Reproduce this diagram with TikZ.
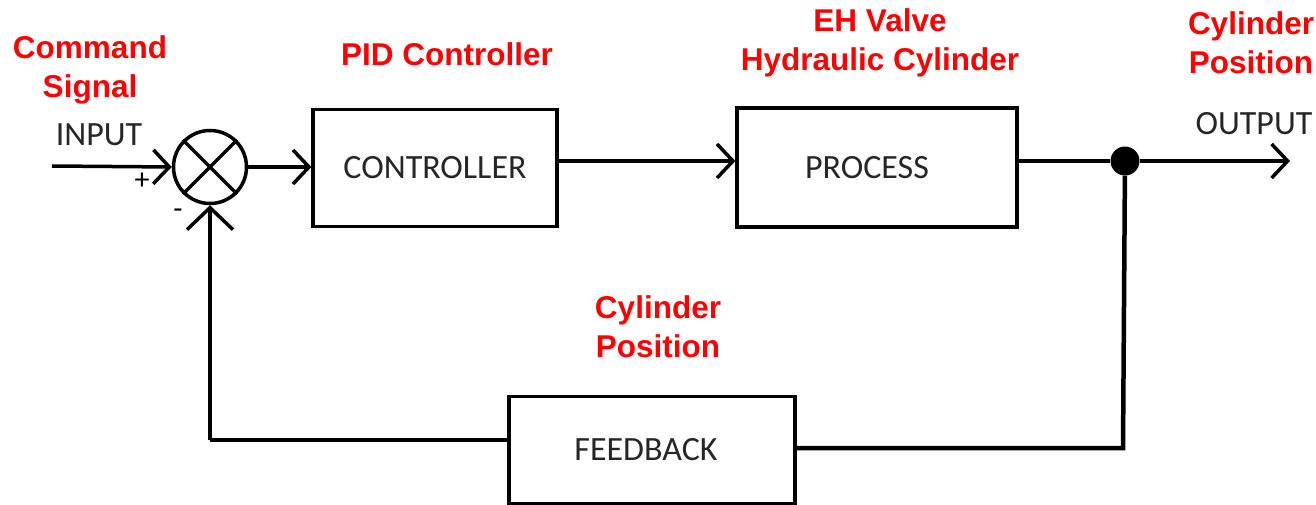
\documentclass[tikz,border=0pt]{standalone}
\usepackage{fontspec}
\newfontfamily\calfont{Carlito}
\newfontfamily\arialfont{Liberation Sans}
\usetikzlibrary{arrows.meta}
\definecolor{lblred}{HTML}{FF0000}
\tikzset{
  blk/.style={draw, line width=3.2pt, minimum width=#1, inner sep=0pt, font=\calfont\fontsize{34}{40}\selectfont, text=black!85},
  wire/.style={line width=3.5pt},
  opentip/.style={-{Straight Barb[length=16pt,width=34pt,line width=3.5pt]}},
  bigtip/.style={-{Straight Barb[length=22pt,width=46pt,line width=3.5pt]}},
  lbl/.style={font=\arialfont\bfseries\fontsize{31.5}{39}\selectfont, text=lblred, align=center},
  sig/.style={font=\calfont\fontsize{34}{40}\selectfont, text=black!85},
}
\begin{document}
\begin{tikzpicture}[x=1pt,y=-1pt]
\useasboundingbox (0,0) rectangle (1316,505);
% blocks
\node[blk=244pt, minimum height=117pt] (ctrl) at (435,168) {CONTROLLER};
\node[blk=280pt, minimum height=119pt] (proc) at (877,167.5) {\hspace*{-20pt}PROCESS};
\node[blk=286pt, minimum height=107pt] (fb) at (652,450) {\hspace*{-12pt}FEEDBACK};
% summing junction
\node[draw, circle, line width=3.5pt, minimum size=73pt, inner sep=0pt] (sum) at (210,167) {};
\draw[line width=3.5pt] (sum.north west) -- (sum.south east);
\draw[line width=3.5pt] (sum.north east) -- (sum.south west);
% take-off dot
\node[circle, fill=black, minimum size=29pt, inner sep=0pt] (dot) at (1125,161) {};
% coordinates
\coordinate (inp) at (52,166);
\coordinate (outend) at (1290,161);
\coordinate (fbR) at (1123,448);
\coordinate (fbL) at (210,440);
% connectors
\draw[wire, opentip] (inp) -- (sum.west);
\draw[wire, opentip] (sum.east) -- (ctrl.west |- sum.east);
\draw[wire, opentip] (ctrl.east |- dot) -- (proc.west |- dot);
\draw[wire] (proc.east |- dot) -- (dot);
\draw[wire, opentip] (dot) -- (outend);
\draw[wire, line width=4.5pt] (dot) -- (fbR) -- (fb.east |- fbR);
\draw[wire, line width=4.5pt] (fb.west |- fbL) -- (fbL);
\draw[wire, bigtip] (fbL) -- (sum.south);
% signal texts
\node[sig] (tin) at (99,135) {INPUT};
\node[sig] (tout) at (1254,124) {OUTPUT};
\node[font=\calfont\fontsize{30}{30}\selectfont] (plus) at (142,181) {+};
\node[font=\calfont\fontsize{30}{30}\selectfont] (minus) at (178,214) {-};
% red labels
\node[lbl] (l1) at (90,70) {Command\\Signal};
\node[lbl] (l2) at (447,54) {PID Controller};
\node[lbl] (l3) at (880,43) {EH Valve\\Hydraulic Cylinder};
\node[lbl] (l4) at (1251,43) {Cylinder\\Position};
\node[lbl] (l5) at (658,327) {Cylinder\\Position};
\end{tikzpicture}
\end{document}
